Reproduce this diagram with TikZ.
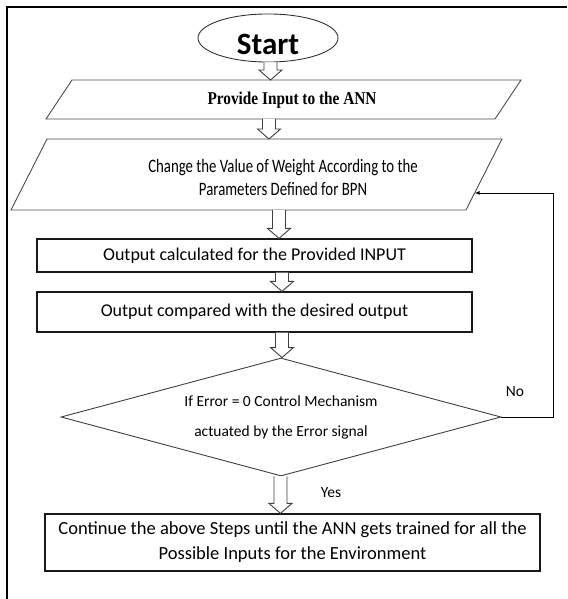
\documentclass[tikz,border=0pt]{standalone}
\usepackage{fontspec}
\setmainfont{Carlito}
\newfontfamily\timesface{Liberation Serif}[FakeStretch=0.85]
\newfontfamily\narrowface{Carlito}[FakeStretch=0.78]
\usetikzlibrary{shapes.geometric,arrows.meta,calc}

\tikzset{
    startshape/.style={draw=black!80, line width=0.9pt, ellipse, inner sep=0pt,
        minimum width=140, minimum height=48, text height=34pt, text depth=0pt,
        font=\fontsize{31}{31}\selectfont\bfseries},
    datashape/.style={draw=black!70, line width=0.9pt},
    flowbox/.style={draw=black!90, line width=1.2pt, rectangle, inner sep=0pt},
    decision/.style={draw=black!75, line width=0.9pt, diamond, aspect=3.73, inner sep=0pt,
        align=center, font=\fontsize{15.5}{30}\selectfont},
    steptext/.style={font=\fontsize{18}{23}\selectfont, align=center},
    smalltext/.style={font=\fontsize{15.5}{18}\selectfont},
    hollow/.style={draw=black!75, line width=0.9pt, fill=white},
    feedback/.style={draw=black, line width=0.9pt, -{Latex[length=5pt,width=4pt]}}
}

% hollow block arrow: #1 = x of the arrow, #2 = upper anchor, #3 = lower anchor
\newcommand{\blockarrow}[3]{%
    \coordinate (ba-s) at (#1,0 |- #2);
    \coordinate (ba-e) at (#1,0 |- #3);
    \draw[hollow] ([xshift=-6.5pt]ba-s) -- ([xshift=-6.5pt,yshift=10pt]ba-e)
        -- ([xshift=-11.5pt,yshift=10pt]ba-e) -- (ba-e)
        -- ([xshift=11.5pt,yshift=10pt]ba-e) -- ([xshift=6.5pt,yshift=10pt]ba-e)
        -- ([xshift=6.5pt]ba-s);
}

\begin{document}
\begin{tikzpicture}[x=1pt, y=-1pt]
    \useasboundingbox (0,0) rectangle (567,599);

    % Outer frame, only its left and top edges show
    \draw[line width=1.8pt] (7,599) -- (7,7) -- (567,7);

    % Start
    \node[startshape] (start) at (268,38) {Start};

    % Input and weights (parallelograms)
    \draw[datashape] (72,80) coordinate (input-tl) -- (521,80) coordinate (input-tr)
        -- (495,119) coordinate (input-br) -- (46,119) coordinate (input-bl) -- cycle;
    \node[font=\fontsize{18}{18}\selectfont\timesface\bfseries] (input) at (292,100) {Provide Input to the ANN};

    \draw[datashape] (47,139) coordinate (weight-tl) -- (502,139) coordinate (weight-tr)
        -- (466,210) coordinate (weight-br) -- (11,210) coordinate (weight-bl) -- cycle;
    \node[steptext, font=\fontsize{19}{23}\selectfont\narrowface] (weight) at (283,177) {Change the Value of Weight According to the\\Parameters Defined for BPN};

    % Output steps
    \node[flowbox, minimum width=435, minimum height=33, steptext] (calc) at (254.5,255.5) {Output calculated for the Provided INPUT};
    \node[flowbox, minimum width=435, minimum height=40, steptext] (compare) at (254.5,312) {Output compared with the desired output};

    % Error check
    \node[decision, minimum width=440, minimum height=118] (check) at (281,417) {If Error = 0 Control Mechanism\\actuated by the Error signal};

    \node[flowbox, minimum width=495, minimum height=57, font=\fontsize{18.5}{25}\selectfont, align=center] (train) at (292.5,542.5) {Continue the above Steps until the ANN gets trained for all the\\Possible Inputs for the Environment};

    % Block arrows between the steps
    \blockarrow{270.5}{start.south}{input-tl}
    \blockarrow{269}{input-bl}{weight-tl}
    \blockarrow{279}{weight-bl}{calc.north}
    \blockarrow{282}{calc.south}{compare.north}
    \blockarrow{282}{compare.south}{check.north}
    \blockarrow{280.5}{check.south}{train.north}

    % No: back to the weights
    \coordinate (loop) at (553,417);
    \draw[feedback] (check.east) -- (loop) |- ($(weight-br)!0.24!(weight-tr)$);

    \node[smalltext] (no) at (515,392) {No};
    \node[smalltext] (yes) at (331,493) {Yes};
\end{tikzpicture}
\end{document}
